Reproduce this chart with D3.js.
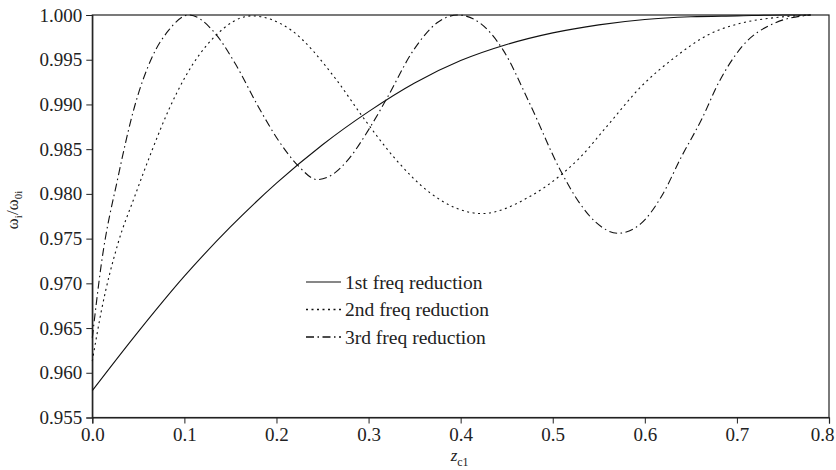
<!DOCTYPE html>
<html>
<head>
<meta charset="utf-8">
<script src="https://cdn.jsdelivr.net/npm/d3@7"></script>
<style>
    body { margin: 0; background: #fff; }
    svg text { font-family: "Liberation Serif", "Times New Roman", serif; fill: #222; }
</style>
</head>
<body>
<div id="chart"></div>
<script>
// values (z_c1 vs omega_i / omega_0i)
const zc1First = [0, 0.05, 0.1, 0.15, 0.2, 0.25, 0.3, 0.35, 0.4, 0.45, 0.5, 0.55, 0.6, 0.65, 0.7, 0.75, 0.78];
const freqFirst = [0.9580, 0.9646, 0.9708, 0.9763, 0.9812, 0.9855, 0.9892, 0.9924, 0.9949, 0.9967, 0.9980, 0.9989, 0.9995, 0.9998, 0.9999, 1.0000, 1.0000];

const zc1Second = [0, 0.010, 0.028, 0.046, 0.065, 0.083, 0.101, 0.133, 0.173, 0.216, 0.264, 0.293, 0.330, 0.367, 0.423, 0.475, 0.511, 0.529, 0.560, 0.596, 0.633, 0.669, 0.705, 0.741, 0.78];
const freqSecond = [0.9613, 0.9670, 0.9745, 0.9797, 0.9849, 0.9894, 0.9931, 0.9976, 0.9999, 0.9983, 0.9929, 0.9887, 0.9838, 0.9801, 0.9778, 0.9797, 0.9823, 0.9840, 0.9877, 0.9920, 0.9953, 0.9978, 0.9991, 0.9997, 1.0000];

const zc1Third = [0, 0.010, 0.028, 0.046, 0.065, 0.083, 0.105, 0.133, 0.155, 0.180, 0.202, 0.224, 0.244, 0.264, 0.276, 0.302, 0.320, 0.349, 0.374, 0.397, 0.421, 0.446, 0.475, 0.508, 0.529, 0.546, 0.571, 0.596, 0.618, 0.640, 0.662, 0.680, 0.705, 0.741, 0.78];
const freqThird = [0.9639, 0.9723, 0.9819, 0.9898, 0.9953, 0.9983, 1.0000, 0.9980, 0.9946, 0.9898, 0.9860, 0.9831, 0.9816, 0.9824, 0.9836, 0.9875, 0.9907, 0.9961, 0.9991, 1.0000, 0.9991, 0.9961, 0.9901, 0.9827, 0.9790, 0.9769, 0.9756, 0.9767, 0.9797, 0.9842, 0.9884, 0.9924, 0.9964, 0.9991, 1.0000];

const seriesNames = ["1st freq reduction", "2nd freq reduction", "3rd freq reduction"];
const xTicks = [0, 0.1, 0.2, 0.3, 0.4, 0.5, 0.6, 0.7, 0.8];
const yTicks = [0.955, 0.960, 0.965, 0.970, 0.975, 0.980, 0.985, 0.990, 0.995, 1.000];

const width = 836, height = 470;
const margin = { top: 15, right: 7, bottom: 52.5, left: 92.3 };

const svg = d3.select("#chart").append("svg")
    .attr("width", width)
    .attr("height", height);

const x = d3.scaleLinear().domain([0, 0.8]).range([margin.left, width - margin.right]);
const y = d3.scaleLinear().domain([0.955, 1.0]).range([height - margin.bottom, margin.top]);

// frame (top + right), axes drawn below
svg.append("rect")
    .attr("x", x(0)).attr("y", y(1))
    .attr("width", x(0.8) - x(0)).attr("height", y(0.955) - y(1))
    .attr("fill", "none").attr("stroke", "#222").attr("stroke-width", 1.2);

const xAxis = svg.append("g")
    .attr("transform", `translate(0,${y(0.955)})`)
    .call(d3.axisBottom(x).tickValues(xTicks).tickFormat(d3.format(".1f")).tickSizeOuter(0).tickSize(6).tickPadding(4));

const yAxis = svg.append("g")
    .attr("transform", `translate(${x(0)},0)`)
    .call(d3.axisLeft(y).tickValues(yTicks).tickFormat(d3.format(".3f")).tickSizeOuter(0).tickSize(6).tickPadding(4));

[xAxis, yAxis].forEach(g => {
    g.select(".domain").attr("stroke", "#222").attr("stroke-width", 1.2);
    g.selectAll(".tick line").attr("stroke", "#222").attr("stroke-width", 1);
    g.selectAll(".tick text").attr("font-size", 19).attr("fill", "#222")
        .attr("font-family", "'Liberation Serif', 'Times New Roman', serif");
});

// last x label sits against the right edge, as in the figure
xAxis.selectAll(".tick text")
    .filter(d => d === 0.8)
    .attr("text-anchor", "end")
    .attr("dx", 5);

// axis titles
const xLabel = svg.append("text")
    .attr("x", x(0.4) - 10).attr("y", 461)
    .attr("font-size", 17);
xLabel.append("tspan").attr("font-style", "italic").text("z");
xLabel.append("tspan").attr("font-size", 12).attr("dy", 5).text("c1");

const yLabel = svg.append("text")
    .attr("transform", `translate(18,210) rotate(-90)`)
    .attr("text-anchor", "middle")
    .attr("font-size", 17);
yLabel.append("tspan").text("ω");
yLabel.append("tspan").attr("font-size", 11).attr("dy", 4).text("i");
yLabel.append("tspan").attr("dy", -4).text("/ω");
yLabel.append("tspan").attr("font-size", 11).attr("dy", 4).text("0i");

// curves
const styles = [
    { dash: null },
    { dash: "2,3.5" },
    { dash: "8,3.5,1.5,3.5" }
];
const series = [
    zc1First.map((z, i) => [z, freqFirst[i]]),
    zc1Second.map((z, i) => [z, freqSecond[i]]),
    zc1Third.map((z, i) => [z, freqThird[i]])
];

const line = d3.line()
    .x(d => x(d[0]))
    .y(d => y(d[1]))
    .curve(d3.curveMonotoneX);

svg.append("g")
    .selectAll("path")
    .data(series)
    .join("path")
    .attr("d", line)
    .attr("fill", "none")
    .attr("stroke", "#111")
    .attr("stroke-width", 1.1)
    .attr("stroke-dasharray", (d, i) => styles[i].dash);

// legend
const legend = svg.append("g").attr("transform", "translate(306,282)");
seriesNames.forEach((name, i) => {
    const row = legend.append("g").attr("transform", `translate(0,${i * 27.5})`);
    row.append("line")
        .attr("x1", 0).attr("x2", 35)
        .attr("stroke", "#111")
        .attr("stroke-width", i === 0 ? 1.1 : 1.6)
        .attr("stroke-dasharray", styles[i].dash);
    row.append("text")
        .attr("x", 39).attr("y", 6.5)
        .attr("font-size", 19.5)
        .text(name);
});
</script>
</body>
</html>
